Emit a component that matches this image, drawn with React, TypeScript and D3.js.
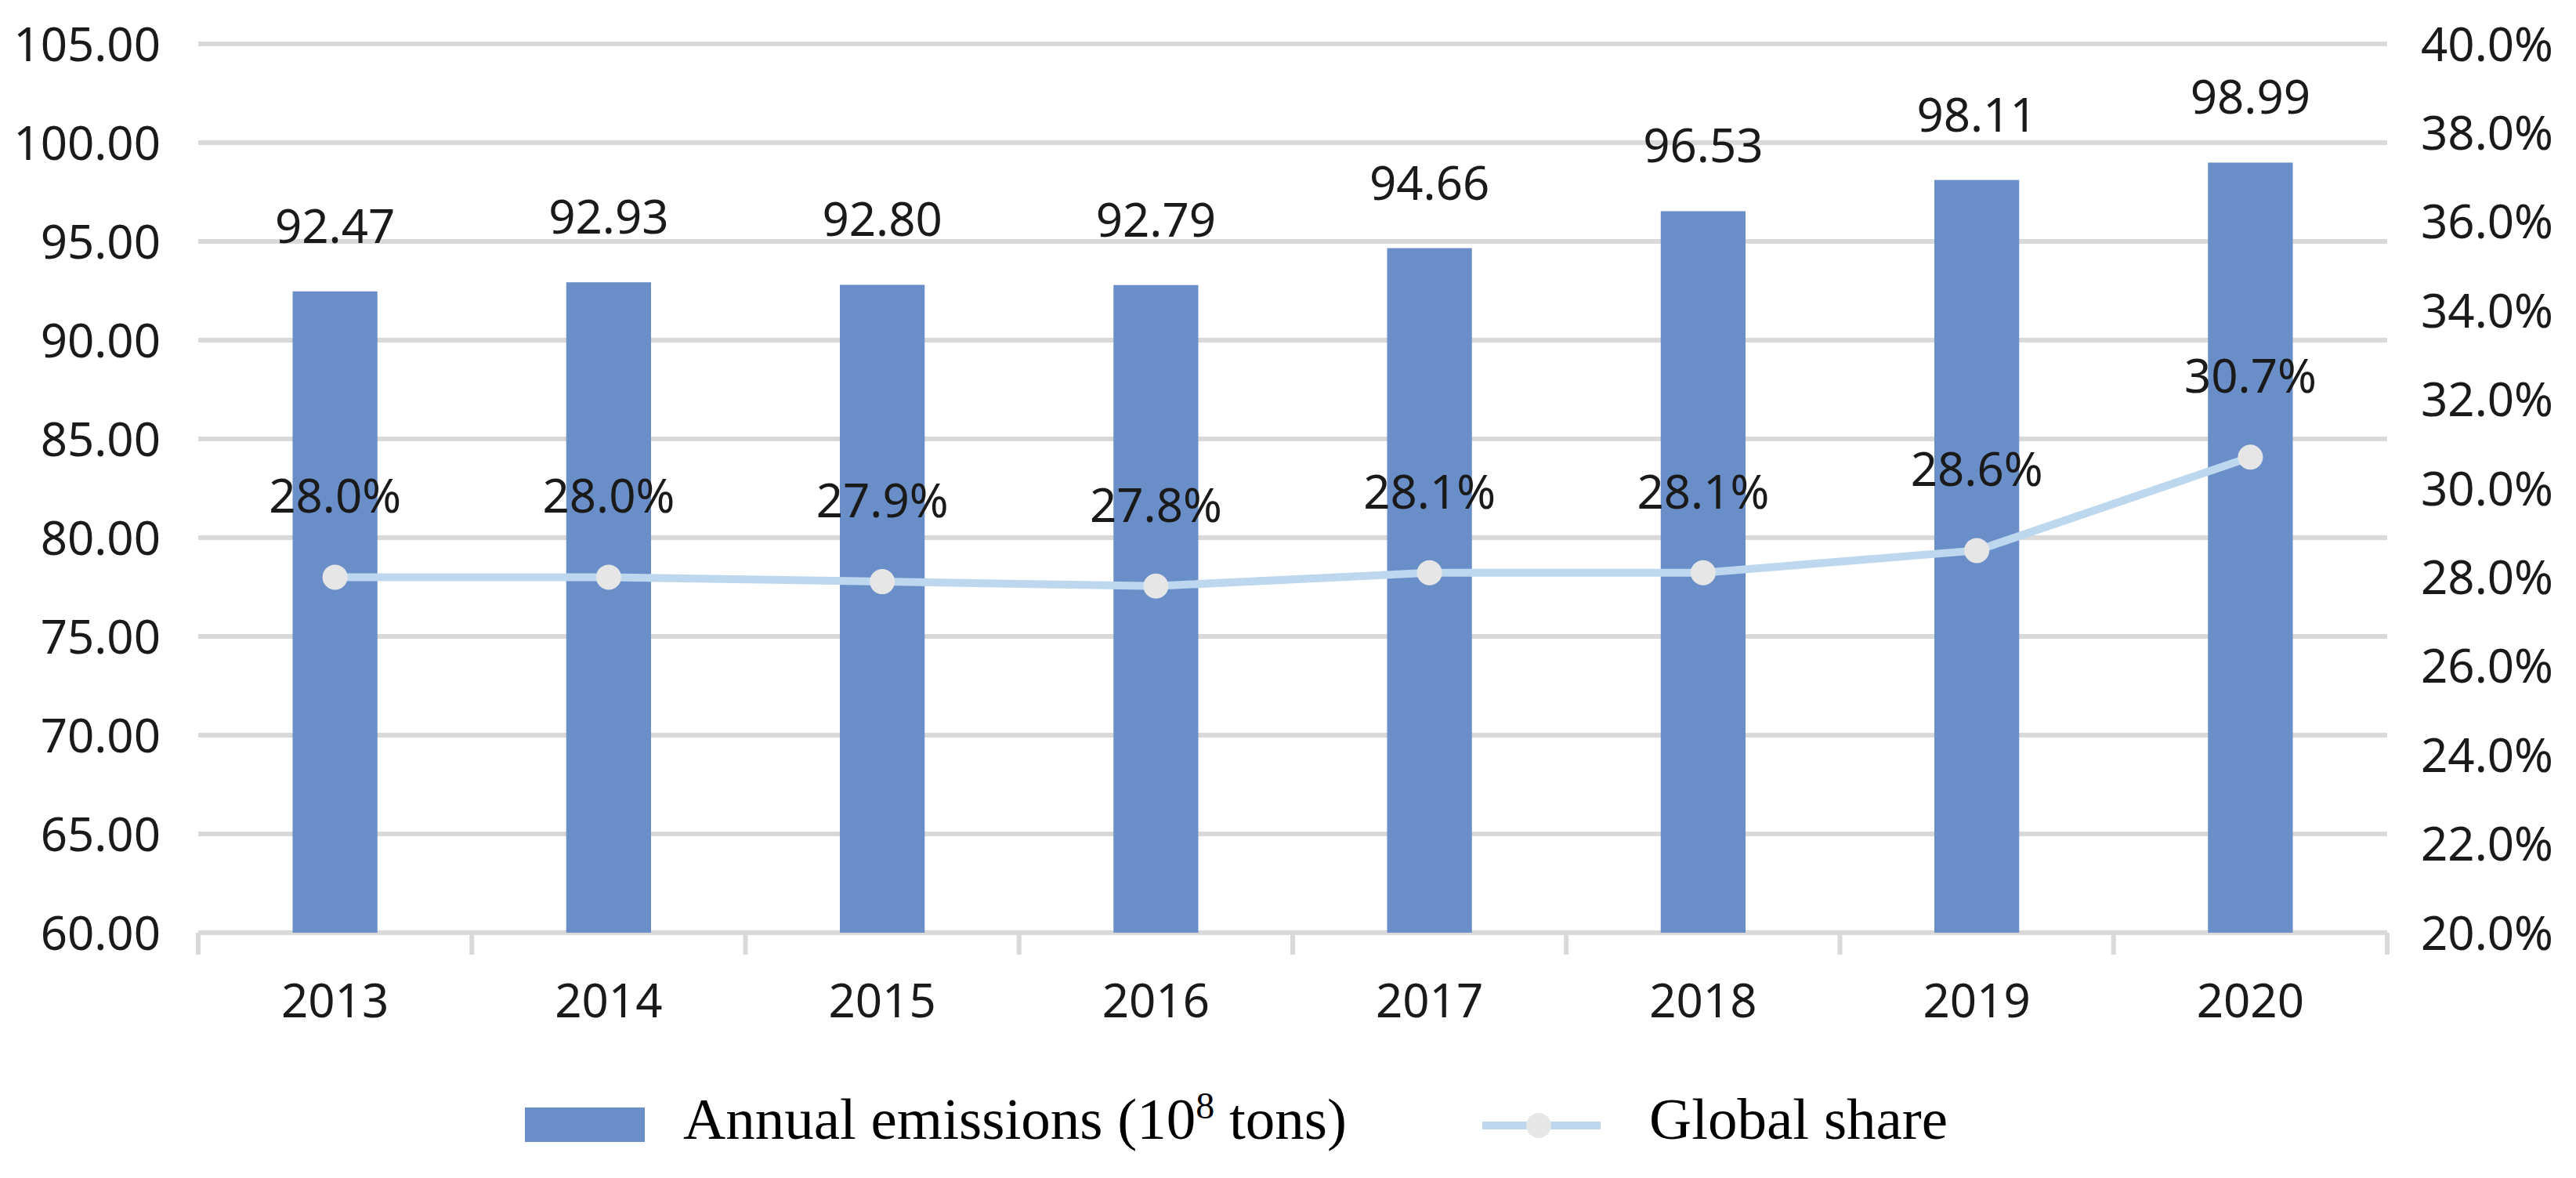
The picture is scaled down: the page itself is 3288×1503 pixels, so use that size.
import * as d3 from "d3";
import { useEffect } from "react";

const years = ["2013", "2014", "2015", "2016", "2017", "2018", "2019", "2020"];
const emissions = [92.47, 92.93, 92.8, 92.79, 94.66, 96.53, 98.11, 98.99];
const globalShare = [0.28, 0.28, 0.279, 0.278, 0.281, 0.281, 0.286, 0.307];
const leftTicks = [60, 65, 70, 75, 80, 85, 90, 95, 100, 105];
const rightTicks = [0.2, 0.22, 0.24, 0.26, 0.28, 0.3, 0.32, 0.34, 0.36, 0.38, 0.4];

const W = 3288;
const H = 1503;
const plot = { left: 253, right: 3047, top: 56, bottom: 1190 };

const BAR_COLOR = "#6a8ec8";
const LINE_COLOR = "#bdd7ee";
const MARKER_COLOR = "#e7e6e6";
const GRID_COLOR = "#d9d9d9";
const FONT = "'Noto Sans', sans-serif";

export default function App() {
  useEffect(() => {
    document.body.style.margin = "0";
  }, []);

  const x = d3
    .scaleBand<string>()
    .domain(years)
    .range([plot.left, plot.right])
    .paddingInner(0.69)
    .paddingOuter(0.345);
  const step = x.step();

  const yLeft = d3.scaleLinear().domain([60, 105]).range([plot.bottom, plot.top]);
  const yRight = d3.scaleLinear().domain([0.2, 0.4]).range([plot.bottom, plot.top]);

  const pts: [number, number][] = years.map((yr, i) => [
    x(yr)! + x.bandwidth() / 2,
    yRight(globalShare[i]),
  ]);
  const line = d3.line().curve(d3.curveLinear)(pts) || "";

  const fmtPct = d3.format(".1%");

  return (
    <svg width={W} height={H} style={{ display: "block", background: "#fff" }}>
      {/* gridlines */}
      {leftTicks.map((t) => (
        <line
          key={"g" + t}
          x1={plot.left}
          x2={plot.right}
          y1={yLeft(t)}
          y2={yLeft(t)}
          stroke={GRID_COLOR}
          strokeWidth={6}
        />
      ))}
      {/* category tick marks */}
      {d3.range(years.length + 1).map((i) => (
        <line
          key={"t" + i}
          x1={plot.left + i * step}
          x2={plot.left + i * step}
          y1={plot.bottom}
          y2={plot.bottom + 28}
          stroke={GRID_COLOR}
          strokeWidth={6}
        />
      ))}

      {/* left axis labels */}
      {leftTicks.map((t) => (
        <text
          key={"l" + t}
          x={205}
          y={yLeft(t)}
          dy="0.36em"
          textAnchor="end"
          fontFamily={FONT}
          fontSize={60}
          fill="#1a1a1a"
        >
          {t.toFixed(2)}
        </text>
      ))}
      {/* right axis labels */}
      {rightTicks.map((t) => (
        <text
          key={"r" + t}
          x={3090}
          y={yRight(t)}
          dy="0.36em"
          textAnchor="start"
          fontFamily={FONT}
          fontSize={60}
          fill="#1a1a1a"
        >
          {fmtPct(t)}
        </text>
      ))}

      {/* bars */}
      {years.map((yr, i) => (
        <rect
          key={"b" + yr}
          x={x(yr)}
          y={yLeft(emissions[i])}
          width={x.bandwidth()}
          height={plot.bottom - yLeft(emissions[i])}
          fill={BAR_COLOR}
        />
      ))}
      {/* bar value labels */}
      {years.map((yr, i) => (
        <text
          key={"bv" + yr}
          x={x(yr)! + x.bandwidth() / 2}
          y={yLeft(emissions[i]) - 62}
          textAnchor="middle"
          fontFamily={FONT}
          fontSize={60}
          fill="#1a1a1a"
        >
          {emissions[i].toFixed(2)}
        </text>
      ))}

      {/* share line */}
      <path d={line} fill="none" stroke={LINE_COLOR} strokeWidth={10} strokeLinejoin="round" />
      {pts.map(([px, py], i) => (
        <circle key={"m" + i} cx={px} cy={py} r={16} fill={MARKER_COLOR} />
      ))}
      {pts.map(([px, py], i) => (
        <text
          key={"pv" + i}
          x={px}
          y={py - 82}
          textAnchor="middle"
          fontFamily={FONT}
          fontSize={60}
          fill="#1a1a1a"
        >
          {fmtPct(globalShare[i])}
        </text>
      ))}

      {/* year labels */}
      {years.map((yr) => (
        <text
          key={"y" + yr}
          x={x(yr)! + x.bandwidth() / 2}
          y={1298}
          textAnchor="middle"
          fontFamily={FONT}
          fontSize={60}
          fill="#1a1a1a"
        >
          {yr}
        </text>
      ))}

      {/* legend */}
      <rect x={670} y={1413} width={153} height={44} fill={BAR_COLOR} />
      <text x={872} y={1453} fontFamily="'Liberation Serif', 'Times New Roman', serif" fontSize={75} fill="#000">
        Annual emissions (10
        <tspan fontSize={48} dy={-26}>8</tspan>
        <tspan dy={26}> tons)</tspan>
      </text>
      <line x1={1892} x2={2043} y1={1436} y2={1436} stroke={LINE_COLOR} strokeWidth={10} />
      <circle cx={1964} cy={1436} r={16} fill={MARKER_COLOR} />
      <text x={2105} y={1453} fontFamily="'Liberation Serif', 'Times New Roman', serif" fontSize={75} fill="#000">
        Global share
      </text>
    </svg>
  );
}
